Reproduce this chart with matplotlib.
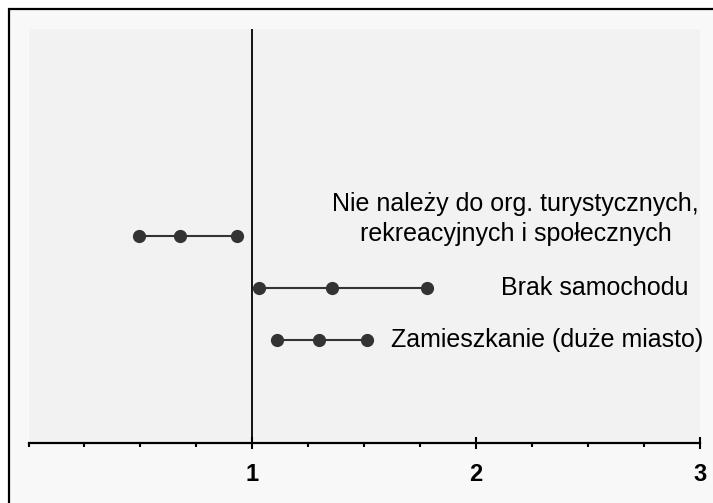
import matplotlib
matplotlib.use("Agg")
import matplotlib.pyplot as plt
from matplotlib.patches import Rectangle
from matplotlib.ticker import MultipleLocator

plt.rcParams['font.family'] = ['Liberation Sans', 'DejaVu Sans']

# data: lower bound, point estimate, upper bound for each factor
labels = ["Nie należy do org. turystycznych,\nrekreacyjnych i społecznych",
          "Brak samochodu",
          "Zamieszkanie (duże miasto)"]
rows = [4, 3, 2]
low = [0.494, 1.030, 1.109]
mid = [0.675, 1.356, 1.298]
high = [0.931, 1.780, 1.514]
xticks = [1, 2, 3]

fig = plt.figure(figsize=(7.13, 5.03), dpi=100)
fig.patch.set_facecolor('white')

# outer frame (only top and left edges fall inside the picture)
frame = Rectangle((8.5 / 713, -0.1), 1.2, (503 - 8.5) / 503 + 0.1,
                  transform=fig.transFigure, facecolor='#f8f8f8',
                  edgecolor='black', linewidth=1.6, zorder=-10)
fig.add_artist(frame)

ax = fig.add_axes([28.5 / 713, 60 / 503, (700 - 28.5) / 713, (443 - 29) / 503])
ax.set_facecolor('#f2f2f2')

for r, lo, m, hi in zip(rows, low, mid, high):
    ax.plot([lo, m, hi], [r, r, r], '-o', color='#333333', lw=1.5,
            markersize=9.5, markerfacecolor='#333333', markeredgewidth=0,
            zorder=3)

ax.axvline(1, color='black', lw=1.3, zorder=2)

# labels next to the intervals
ax.text(2.177, 4.33, labels[0], ha='center', va='center', fontsize=18,
        multialignment='center', linespacing=1.35)
ax.text(2.529, 3.0, labels[1], ha='center', va='center', fontsize=18)
ax.text(2.315, 2.0, labels[2], ha='center', va='center', fontsize=18,
        clip_on=False)

ax.set_xlim(0, 3)
ax.set_ylim(0, 8)
ax.set_xticks(xticks)
ax.set_xticklabels([str(t) for t in xticks], fontweight='bold', fontsize=17)
ax.xaxis.set_minor_locator(MultipleLocator(0.25))
ax.tick_params(axis='x', which='major', direction='inout', length=9,
               width=1.5, pad=10)
ax.tick_params(axis='x', which='minor', direction='out', length=3, width=1.5)
ax.set_yticks([])
for s in ['top', 'right', 'left']:
    ax.spines[s].set_visible(False)
ax.spines['bottom'].set_linewidth(1.6)

fig.savefig('out.png', dpi=100, facecolor=fig.get_facecolor())
